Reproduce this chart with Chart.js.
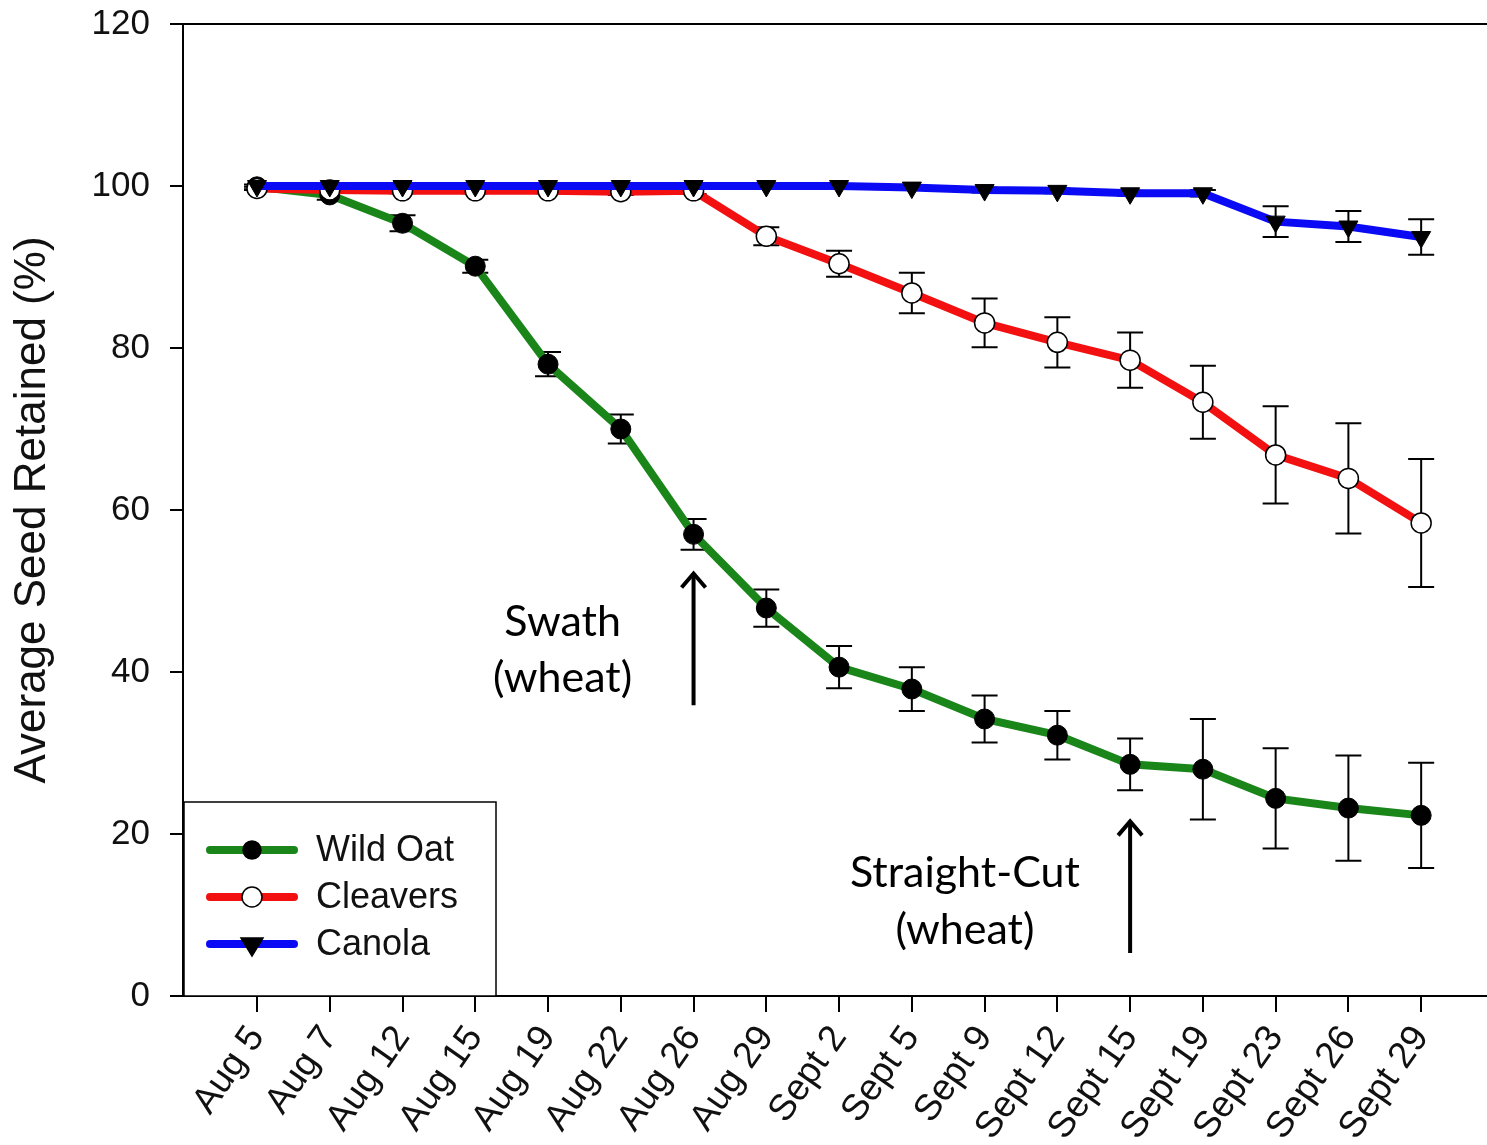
<!DOCTYPE html>
<html>
<head>
    <title>Average Seed Retained</title>
    <script src="https://cdn.jsdelivr.net/npm/chart.js@4.4.0/dist/chart.umd.min.js"></script>
    <style>
        body { margin: 0; padding: 0; background: #fff; overflow: hidden; }
        #wrap { width: 1487px; height: 1145px; }
    </style>
</head>
<body>
<div id="wrap"><canvas id="myChart" width="1487" height="1145"></canvas></div>
<script>
// fechas de muestreo (eje X)
const dates = ['Aug 5', 'Aug 7', 'Aug 12', 'Aug 15', 'Aug 19', 'Aug 22', 'Aug 26', 'Aug 29',
    'Sept 2', 'Sept 5', 'Sept 9', 'Sept 12', 'Sept 15', 'Sept 19', 'Sept 23', 'Sept 26', 'Sept 29'];

// semilla retenida (%) y error estandar
const wildOat    = [99.9, 98.9, 95.4, 90.1, 78.0, 70.0, 57.0, 47.9, 40.6, 37.9, 34.2, 32.2, 28.6, 28.0, 24.4, 23.2, 22.3];
const wildOatErr = [0.3, 0.6, 1.0, 0.8, 1.5, 1.8, 1.9, 2.3, 2.6, 2.7, 2.9, 3.0, 3.2, 6.2, 6.2, 6.5, 6.5];
const cleavers    = [99.7, 99.5, 99.4, 99.4, 99.4, 99.3, 99.4, 93.8, 90.4, 86.8, 83.1, 80.7, 78.5, 73.3, 66.8, 63.9, 58.4];
const cleaversErr = [0.2, 0.3, 0.3, 0.3, 0.3, 0.4, 0.4, 1.1, 1.6, 2.5, 3.0, 3.1, 3.4, 4.5, 6.0, 6.8, 7.9];
const canola    = [100, 100, 100, 100, 100, 100, 100, 100, 100, 99.8, 99.5, 99.4, 99.1, 99.1, 95.6, 95.0, 93.7];
const canolaErr = [0, 0, 0, 0, 0, 0, 0, 0.2, 0.2, 0.3, 0.3, 0.3, 0.3, 0.4, 1.9, 1.9, 2.2];

// marcas del eje Y
const yTicks = [0, 20, 40, 60, 80, 100, 120];

// anotaciones (en unidades de los ejes)
const notes = [
    { lines: ['Swath', '(wheat)'], textX: 4.2, textY: [46.2, 39.3], arrowX: 6, arrowFrom: 35.9, arrowTo: 52.4 },
    { lines: ['Straight-Cut', '(wheat)'], textX: 9.73, textY: [15.2, 8.1], arrowX: 12, arrowFrom: 5.3, arrowTo: 21.8 }
];

const toPoints = vals => vals.map((v, i) => ({ x: i, y: v }));

function drawMarker(ctx, style, x, y) {
    ctx.save();
    ctx.fillStyle = style.fill;
    ctx.strokeStyle = '#000';
    ctx.lineWidth = 1.5;
    ctx.beginPath();
    if (style.shape === 'triangle') {
        const r = style.r;
        ctx.moveTo(x - r * 1.1, y - r * 0.6);
        ctx.lineTo(x + r * 1.1, y - r * 0.6);
        ctx.lineTo(x, y + r * 1.2);
        ctx.closePath();
    } else {
        ctx.arc(x, y, style.r, 0, Math.PI * 2);
    }
    ctx.fill();
    ctx.stroke();
    ctx.restore();
}

// barras de error, debajo de las lineas
const errorBars = {
    id: 'errorBars',
    beforeDatasetsDraw(chart) {
        const { ctx, scales: { x, y } } = chart;
        ctx.save();
        ctx.strokeStyle = '#000';
        ctx.lineWidth = 2;
        chart.data.datasets.forEach(ds => {
            ds.data.forEach((p, i) => {
                const e = ds.errors[i];
                if (!e) return;
                const px = x.getPixelForValue(p.x);
                const top = y.getPixelForValue(p.y + e);
                const bot = y.getPixelForValue(p.y - e);
                ctx.beginPath();
                ctx.moveTo(px, top); ctx.lineTo(px, bot);
                ctx.moveTo(px - 13, top); ctx.lineTo(px + 13, top);
                ctx.moveTo(px - 13, bot); ctx.lineTo(px + 13, bot);
                ctx.stroke();
            });
        });
        ctx.restore();
    }
};

// bordes, leyenda y flechas
const extras = {
    id: 'extras',
    afterDraw(chart) {
        const { ctx, chartArea: a, scales: { x, y } } = chart;
        ctx.save();
        ctx.strokeStyle = '#000';
        ctx.lineWidth = 2;
        ctx.beginPath();
        ctx.moveTo(a.left - 13, a.top);
        ctx.lineTo(chart.width, a.top);
        ctx.moveTo(a.right - 1, a.bottom);
        ctx.lineTo(chart.width, a.bottom);
        ctx.stroke();

        // leyenda
        const lx = a.left + 1, ly = a.bottom - 194;
        ctx.fillStyle = '#fff';
        ctx.fillRect(lx, ly, 312, 194);
        ctx.lineWidth = 1.5;
        ctx.strokeRect(lx, ly, 312, 194);
        chart.data.datasets.forEach((ds, i) => {
            const yy = ly + 48 + i * 47;
            ctx.strokeStyle = ds.borderColor;
            ctx.lineWidth = 8;
            ctx.lineCap = 'round';
            ctx.beginPath();
            ctx.moveTo(lx + 26, yy);
            ctx.lineTo(lx + 110, yy);
            ctx.stroke();
            drawMarker(ctx, ds.marker, lx + 68, yy);
            ctx.fillStyle = '#111';
            ctx.font = '36px "Liberation Sans", Arial, sans-serif';
            ctx.textBaseline = 'middle';
            ctx.textAlign = 'left';
            ctx.fillText(ds.label, lx + 132, yy + 1);
        });

        // anotaciones
        ctx.fillStyle = '#000';
        ctx.strokeStyle = '#000';
        ctx.lineCap = 'butt';
        ctx.font = '43px Lato, "Open Sans", sans-serif';
        ctx.textAlign = 'center';
        ctx.textBaseline = 'middle';
        notes.forEach(n => {
            n.lines.forEach((t, k) => ctx.fillText(t, x.getPixelForValue(n.textX), y.getPixelForValue(n.textY[k])));
            const ax = x.getPixelForValue(n.arrowX);
            const y0 = y.getPixelForValue(n.arrowFrom), y1 = y.getPixelForValue(n.arrowTo);
            ctx.lineWidth = 4;
            ctx.beginPath();
            ctx.moveTo(ax, y0); ctx.lineTo(ax, y1 + 2);
            ctx.stroke();
            ctx.beginPath();
            ctx.moveTo(ax - 12, y1 + 16); ctx.lineTo(ax, y1 + 2); ctx.lineTo(ax + 12, y1 + 16);
            ctx.stroke();
        });
        ctx.restore();
    }
};

const ctx = document.getElementById('myChart').getContext('2d');
new Chart(ctx, {
    type: 'line',
    data: {
        datasets: [{
            label: 'Wild Oat',
            data: toPoints(wildOat),
            errors: wildOatErr,
            borderColor: '#1a861a',
            borderWidth: 8,
            pointStyle: 'circle',
            pointRadius: 10,
            pointBackgroundColor: '#000',
            pointBorderColor: '#000',
            pointBorderWidth: 1,
            marker: { shape: 'circle', r: 9, fill: '#000' },
            order: 2
        }, {
            label: 'Cleavers',
            data: toPoints(cleavers),
            errors: cleaversErr,
            borderColor: '#f21010',
            borderWidth: 8,
            pointStyle: 'circle',
            pointRadius: 10,
            pointBackgroundColor: '#fff',
            pointBorderColor: '#000',
            pointBorderWidth: 1.5,
            marker: { shape: 'circle', r: 10, fill: '#fff' },
            order: 1
        }, {
            label: 'Canola',
            data: toPoints(canola),
            errors: canolaErr,
            borderColor: '#0a0af5',
            borderWidth: 8,
            pointStyle: 'triangle',
            pointRotation: 180,
            pointRadius: 11,
            pointBackgroundColor: '#000',
            pointBorderColor: '#000',
            pointBorderWidth: 1,
            marker: { shape: 'triangle', r: 10, fill: '#000' },
            order: 0
        }]
    },
    options: {
        responsive: false,
        animation: false,
        layout: { padding: { top: 24, right: 0, left: 0, bottom: 0 } },
        plugins: { legend: { display: false }, tooltip: { enabled: false } },
        scales: {
            x: {
                type: 'linear',
                min: -1.017,
                max: 16.74,
                afterBuildTicks: axis => { axis.ticks = dates.map((_, i) => ({ value: i })); },
                afterFit: axis => {
                    axis.height = 149;
                    axis.paddingLeft = 0;
                    axis.paddingRight = 0;
                },
                ticks: {
                    autoSkip: false,
                    minRotation: 55,
                    maxRotation: 55,
                    padding: 6,
                    color: '#111',
                    font: { family: '"Liberation Sans", Arial, sans-serif', size: 37 },
                    callback: v => dates[v]
                },
                grid: { drawOnChartArea: false, drawTicks: true, tickLength: 16, color: '#000', lineWidth: 2 },
                border: { display: true, color: '#000', width: 2 }
            },
            y: {
                min: 0,
                max: 120,
                afterBuildTicks: axis => { axis.ticks = yTicks.map(v => ({ value: v })); },
                afterFit: axis => {
                    axis.width = 183;
                    axis.paddingTop = 0;
                    axis.paddingBottom = 0;
                },
                ticks: {
                    padding: 20,
                    color: '#111',
                    font: { family: '"Liberation Sans", Arial, sans-serif', size: 35 }
                },
                grid: { drawOnChartArea: false, drawTicks: true, tickLength: 13, color: '#000', lineWidth: 2 },
                border: { display: true, color: '#000', width: 2 },
                title: {
                    display: true,
                    text: 'Average Seed Retained (%)',
                    color: '#111',
                    padding: { top: 6, bottom: 0 },
                    font: { family: '"Liberation Sans", Arial, sans-serif', size: 44 }
                }
            }
        }
    },
    plugins: [errorBars, extras]
});
</script>
</body>
</html>
